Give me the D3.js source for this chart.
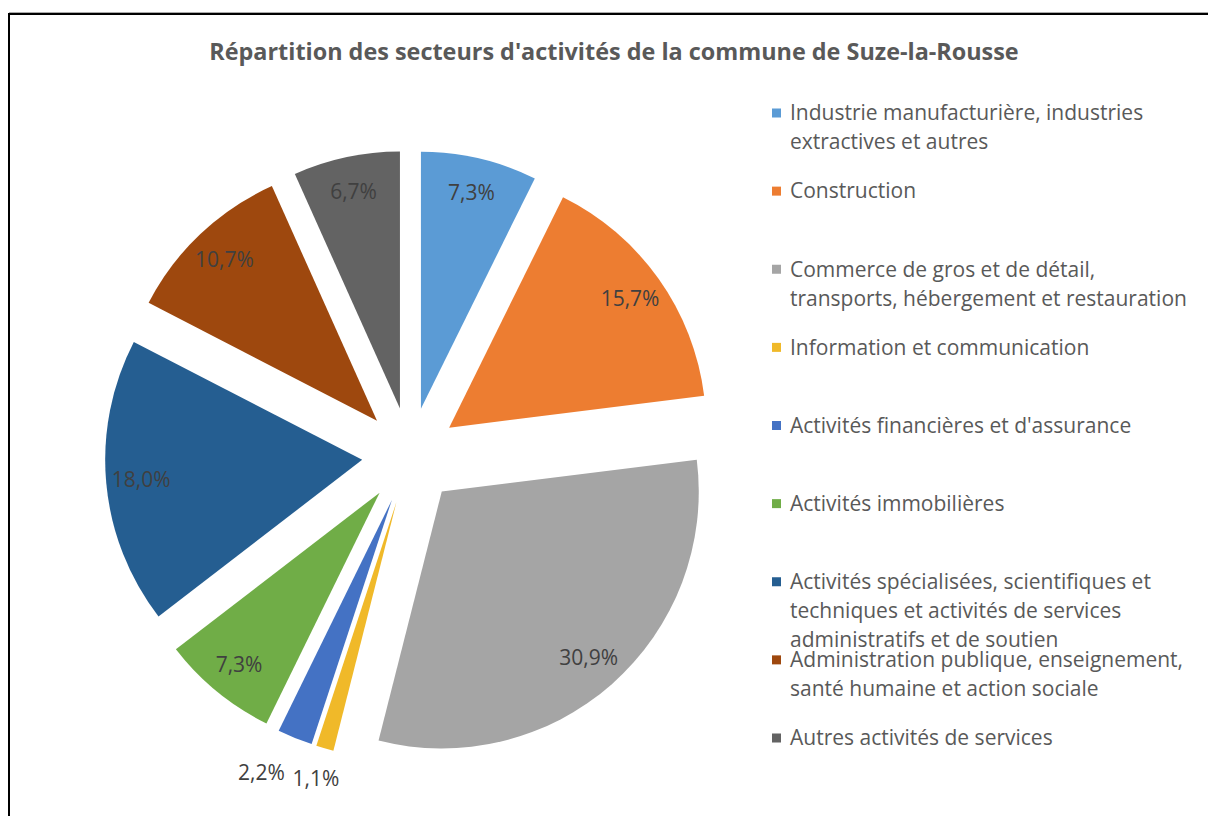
<!DOCTYPE html>
<meta charset="utf-8">
<style>
body { margin: 0; background: #fff; }
svg { display: block; font-family: "Open Sans", "Noto Sans", sans-serif; }
.title { font-size: 23.4px; font-weight: bold; fill: #595959; }
.lbl { font-size: 21px; fill: #404040; }
.leg { font-size: 21px; fill: #595959; }
</style>
<body>
<svg width="1208" height="816"></svg>
<script src="https://d3js.org/d3.v7.min.js"></script>
<script>

// secteurs (ordre de la légende / du camembert)
var categories = [
  "Industrie manufacturière, industries extractives et autres",
  "Construction",
  "Commerce de gros et de détail, transports, hébergement et restauration",
  "Information et communication",
  "Activités financières et d'assurance",
  "Activités immobilières",
  "Activités spécialisées, scientifiques et techniques et activités de services administratifs et de soutien",
  "Administration publique, enseignement, santé humaine et action sociale",
  "Autres activités de services"
];
var values = [7.3, 15.7, 30.9, 1.1, 2.2, 7.3, 18.0, 10.7, 6.7];
var labels = ["7,3%", "15,7%", "30,9%", "1,1%", "2,2%", "7,3%", "18,0%", "10,7%", "6,7%"];
// lignes de la légende telles qu'affichées
var legendLines = [
  ["Industrie manufacturière, industries", "extractives et autres"],
  ["Construction"],
  ["Commerce de gros et de détail,", "transports, hébergement et restauration"],
  ["Information et communication"],
  ["Activités financières et d'assurance"],
  ["Activités immobilières"],
  ["Activités spécialisées, scientifiques et", "techniques et activités de services", "administratifs et de soutien"],
  ["Administration publique, enseignement,", "santé humaine et action sociale"],
  ["Autres activités de services"]
];
var colors = ["#5B9BD5", "#ED7D31", "#A5A5A5", "#F0B929", "#4472C4", "#70AD47", "#255E91", "#9E480E", "#636363"];

var svg = d3.select("svg");

// cadre (gauche + haut seulement)
svg.append("path")
  .attr("d", "M9,816 V14 H1208")
  .attr("fill", "none")
  .attr("stroke", "#000")
  .attr("stroke-width", 2);
svg.append("line")
  .attr("x1", 9).attr("x2", 1208).attr("y1", 12.5).attr("y2", 12.5)
  .attr("stroke", "#aaa").attr("stroke-width", 1);

svg.append("text")
  .attr("class", "title")
  .attr("x", 614).attr("y", 52)
  .attr("dy", "0.35em")
  .attr("text-anchor", "middle")
  .text("Répartition des secteurs d'activités de la commune de Suze-la-Rousse");

var cx = 410, cy = 455.5, r = 257, explode = 48;

var color = d3.scaleOrdinal().domain(categories).range(colors);

var pie = d3.pie().sort(null).value(function(d) { return d.value; });
var arc = d3.arc().innerRadius(0).outerRadius(r);

var data = categories.map(function(c, i) {
  return { name: c, value: values[i], label: labels[i], lines: legendLines[i] };
});
var arcs = pie(data);

var g = svg.append("g").attr("transform", "translate(" + cx + "," + cy + ")");

function mid(d) { return (d.startAngle + d.endAngle) / 2; }

// position de l'étiquette : dedans pour les grandes parts, dehors pour les petites
function labelPos(d) {
  var a = mid(d), lr = 222;
  if (d.data.value < 2) { lr = r + 32; }
  else if (d.data.value < 3) { lr = r + 45; a += 0.06; }
  return [lr * Math.sin(a), -lr * Math.cos(a)];
}

var slice = g.selectAll("g.slice")
  .data(arcs)
  .enter().append("g")
  .attr("class", "slice")
  .attr("transform", function(d) {
    var a = mid(d);
    return "translate(" + (explode * Math.sin(a)) + "," + (-explode * Math.cos(a)) + ")";
  });

slice.append("path")
  .attr("d", arc)
  .attr("fill", function(d) { return color(d.data.name); });

slice.append("text")
  .attr("class", "lbl")
  .attr("text-anchor", "middle")
  .attr("dy", "0.35em")
  .attr("x", function(d) { return labelPos(d)[0]; })
  .attr("y", function(d) { return labelPos(d)[1]; })
  .text(function(d) { return d.data.label; });

// légende
var ly = d3.scaleLinear().domain([0, 8]).range([113, 738]);

var leg = svg.selectAll("g.legend")
  .data(data)
  .enter().append("g")
  .attr("class", "legend")
  .attr("transform", function(d, i) { return "translate(772," + ly(i) + ")"; });

leg.append("rect")
  .attr("x", 0).attr("y", -4.5)
  .attr("width", 9).attr("height", 9)
  .attr("fill", function(d) { return color(d.name); });

leg.append("text")
  .attr("class", "leg")
  .selectAll("tspan")
  .data(function(d) { return d.lines; })
  .enter().append("tspan")
  .attr("x", 18)
  .attr("y", function(d, i) { return i * 29; })
  .attr("dy", "0.35em")
  .text(function(d) { return d; });

</script>
